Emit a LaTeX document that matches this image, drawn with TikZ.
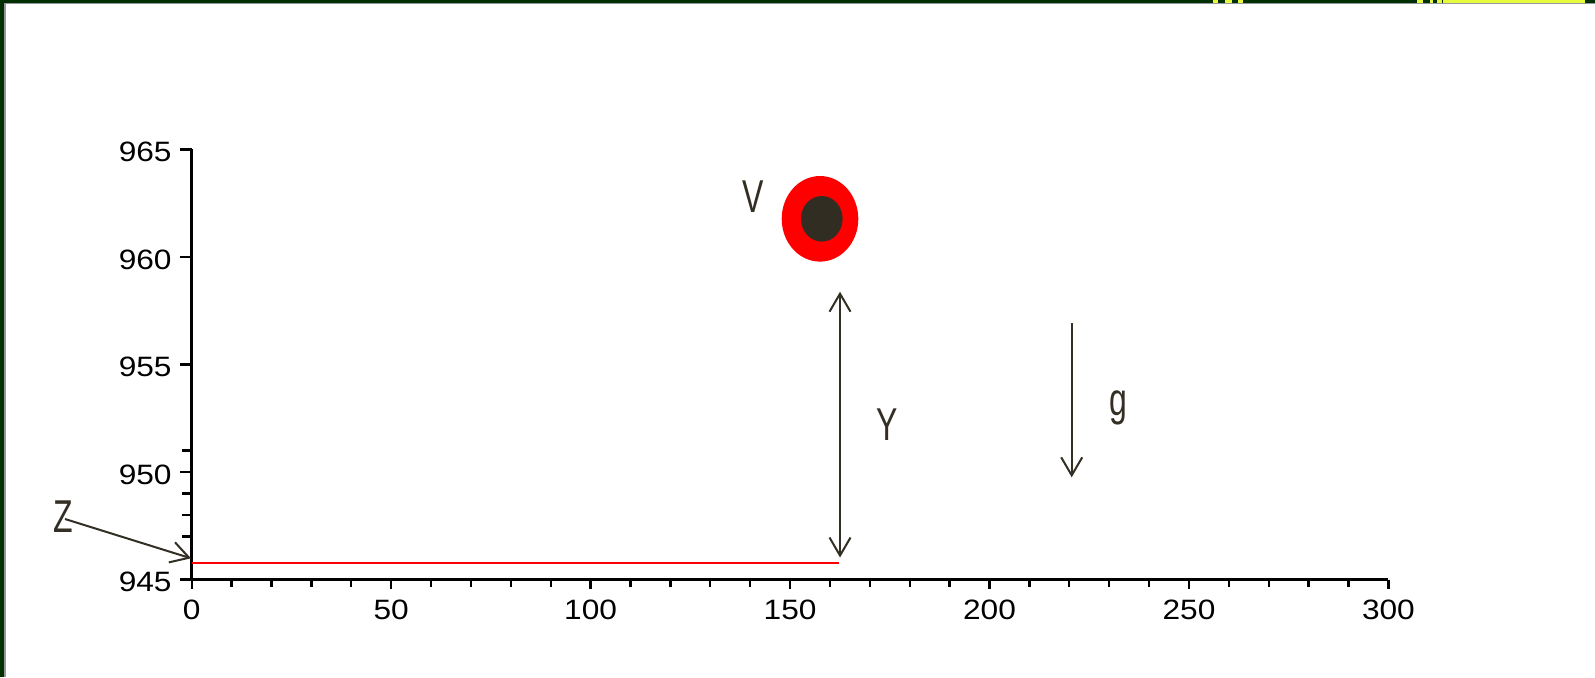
\documentclass[tikz,border=0pt]{standalone}
\usepackage{fontspec}
\setmainfont{Liberation Sans}
\usetikzlibrary{arrows.meta}
\definecolor{dkgreen}{RGB}{0,48,0}
\definecolor{ink}{RGB}{51,47,36}
\definecolor{ylw}{RGB}{232,250,60}
\definecolor{ballin}{RGB}{50,45,35}
\definecolor{edgegray}{RGB}{150,150,160}
\begin{document}
\begin{tikzpicture}[x=0.5pt,y=-0.5pt,
  axisline/.style={line width=1.5pt, black},
  tickline/.style={line width=1.2pt, black},
  ticklab/.style={font=\fontsize{14}{15}\selectfont, xscale=1.13, inner sep=0pt},
  arrowline/.style={ink, line width=1pt},
  letter/.style={ink, font=\fontsize{16}{16}\selectfont, yscale=1.44, inner sep=0pt}
]
\useasboundingbox (0,0) rectangle (1595,677);
\fill[white] (0,0) rectangle (1595,677);
% frame of the screenshot
\fill[dkgreen] (0,0) rectangle (1595,3.3);
\fill[dkgreen] (0,0) rectangle (4,677);
\fill[edgegray] (4,3.3) rectangle (1595,4.3);
\fill[edgegray] (4,3.3) rectangle (5.7,677);
\fill[ylw] (1443,0) rectangle (1585,3);
\foreach \a/\b in {1213/1218,1225/1232,1238/1243,1417/1423,1430/1433,1437/1442}
  \fill[ylw] (\a,0) rectangle (\b,3);
% axes
\draw[axisline] (191.7,149.3) -- (191.7,579.5) -- (1388.3,579.5);
\foreach \v in {945,950,955,960,965} {
  \draw[tickline] (191.7,{579.5-21.51*(\v-945)}) -- ++(-12,0);
  \node[ticklab, anchor=east] (yl\v) at (172,{582-21.51*(\v-945)}) {\v};
}
\foreach \v in {947,948,949,951}
  \draw[tickline] (191.7,{579.5-21.51*(\v-945)}) -- ++(-10,0);
\foreach \u in {0,10,...,300}
  \draw[tickline] ({191.7+3.989*\u},579.5) -- ++(0,7);
\foreach \u in {0,50,...,300} {
  \draw[tickline] ({191.7+3.989*\u},579.5) -- ++(0,9);
  \node[ticklab, anchor=north] (xl\u) at ({191.7+3.989*\u},600) {\u};
}
% ground line
\coordinate (redA) at (191.7,562.7);
\coordinate (redB) at (839,562.7);
\draw[red, line width=1.2pt] (redA) -- (redB);
% ball
\coordinate (ball) at (820,218.8);
\fill[red] (ball) ellipse [x radius=38.3, y radius=42.8];
\fill[ballin] (821.8,218.8) ellipse [x radius=20.8, y radius=22.8];
% labels
\node[letter] (V) at (753,197) {V};
\node[letter] (Y) at (886.7,425) {Y};
\node[letter] (g) at (1118,407.8) {g};
\node[letter] (Z) at (63.7,516.3) {Z};
% arrows
\coordinate (ytop) at (840,291.7);
\coordinate (ybot) at (840,557.5);
\draw[arrowline, {Straight Barb[length=9pt,width=10.5pt]}-{Straight Barb[length=9pt,width=10.5pt]}] (ybot) -- (ytop);
\coordinate (gtop) at (1071.7,323.3);
\coordinate (gtip) at (1071.7,477.3);
\draw[arrowline, -{Straight Barb[length=9pt,width=10.5pt]}] (gtop) -- (gtip);
\coordinate (zs) at (65,519);
\coordinate (zt) at (191,558.3);
\draw[arrowline, -{Straight Barb[length=9pt,width=10.5pt]}] (zs) -- (zt);
\end{tikzpicture}
\end{document}
